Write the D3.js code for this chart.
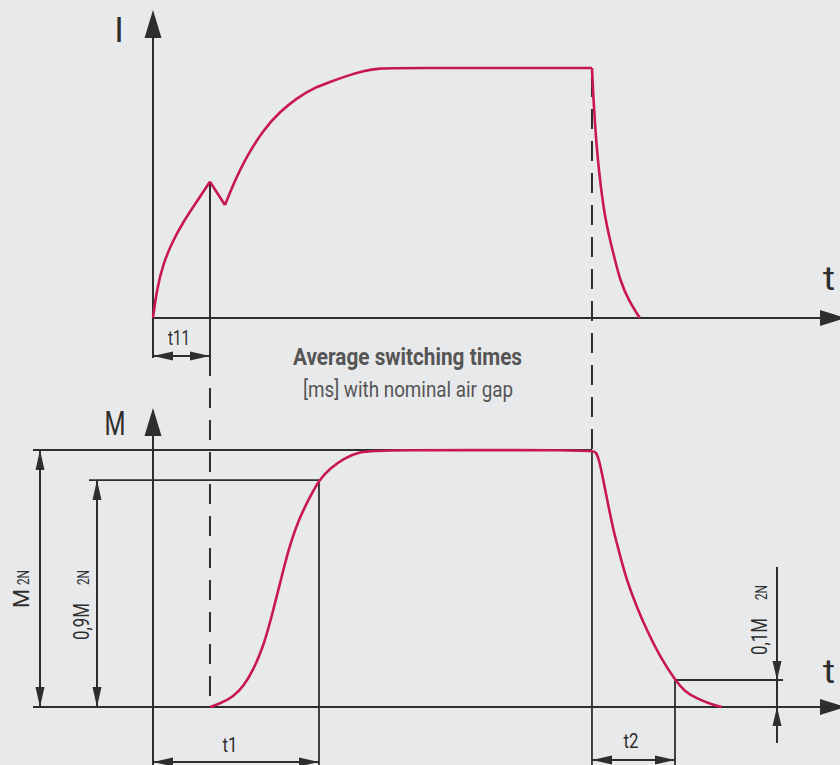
<!DOCTYPE html>
<html>
<head>
<meta charset="utf-8">
<script src="https://cdn.jsdelivr.net/npm/d3@7"></script>
<style>
  body { margin: 0; background: #e8e9eb; }
  svg { display: block; font-family: Roboto, "Liberation Sans", sans-serif; }
</style>
</head>
<body>
<div id="chart"></div>
<script>
// time in arbitrary units, 100 = moment of switch-off
// current I (normalised, 1 = steady state)
const currentRise = [[0, 0], [0.84, 0.112], [2.35, 0.22], [4.62, 0.312], [6.9, 0.385], [9.95, 0.465], [12.98, 0.545]];
const currentDip = [[12.98, 0.545], [16.4, 0.452]];
const currentHold = [[16.4, 0.452], [18.7, 0.552], [21.3, 0.645], [25.1, 0.752], [28.9, 0.825], [32.7, 0.879],
  [36.5, 0.919], [40.3, 0.944], [44.1, 0.968], [47.9, 0.989], [51.7, 0.999], [55.5, 1], [100, 1]];
const currentFall = [[100, 1], [100.3, 0.885], [100.68, 0.779], [101.07, 0.685], [101.66, 0.579], [102.2, 0.499],
  [102.96, 0.405], [104.1, 0.312], [105.24, 0.232], [106.4, 0.152], [108.27, 0.072], [110.9, 0]];

// torque M (normalised, 1 = M2N)
const torque = [[12.98, 0], [15.26, 0.013], [18.29, 0.04], [20.57, 0.079], [22.85, 0.144], [25.13, 0.235],
  [27.04, 0.352], [28.93, 0.481], [30.82, 0.611], [33.1, 0.727], [35.76, 0.818], [37.81, 0.883], [40.32, 0.928],
  [43.35, 0.967], [47.15, 0.993], [50.96, 1], [100, 1], [100.9, 0.993], [101.66, 0.961], [102.57, 0.883],
  [103.71, 0.786], [104.85, 0.689], [106.38, 0.591], [107.9, 0.494], [110.18, 0.39], [112.46, 0.3],
  [115.49, 0.196], [118.91, 0.105], [121.18, 0.059], [123.85, 0.034], [126.88, 0.012], [129.54, 0]];

const switchTimes = { t11: 12.98, t1: 37.81, off: 100, t2: 118.91 };
const torqueLevels = { full: 1, high: 0.883, low: 0.105 };
const titleLines = ["Average switching times", "[ms] with nominal air gap"];

const width = 840, height = 765;
const ink = "#2e2e2e", red = "#c8184f";

const x = d3.scaleLinear().domain([0, 156.5]).range([153, 840]);
const yI = d3.scaleLinear().domain([0, 1]).range([318, 68]);
const yM = d3.scaleLinear().domain([0, 1]).range([707, 450]);

const svg = d3.select("#chart").append("svg")
  .attr("width", width).attr("height", height);

svg.append("rect").attr("width", width).attr("height", height).attr("fill", "#e8e9eb");

function seg(x1, y1, x2, y2, w = 1.6, dash = null) {
  const l = svg.append("line")
    .attr("x1", x1).attr("y1", y1).attr("x2", x2).attr("y2", y2)
    .attr("stroke", ink).attr("stroke-width", w);
  if (dash) l.attr("stroke-dasharray", dash);
  return l;
}

// filled arrow head, tip at (tx,ty), pointing in direction (dx,dy)
function head(tx, ty, dx, dy, len, half) {
  const px = -dy, py = dx;
  const bx = tx - dx * len, by = ty - dy * len;
  svg.append("path")
    .attr("d", `M${tx},${ty}L${bx + px * half},${by + py * half}L${bx - px * half},${by - py * half}Z`)
    .attr("fill", ink);
}

function dimH(x1, x2, y) {
  seg(x1, y, x2, y, 2);
  head(x1, y, -1, 0, 20, 4.5);
  head(x2, y, 1, 0, 20, 4.5);
}
function dimV(x0, y1, y2) {
  seg(x0, y1, x0, y2, 2);
  head(x0, y1, 0, -1, 20, 4.5);
  head(x0, y2, 0, 1, 20, 4.5);
}

// ---- top chart: current ----
seg(x(0), 358, x(0), yI(1.12), 2);
head(x(0), yI(1.232), 0, -1, 28, 8.5);
seg(x(0), yI(0), 822, yI(0), 2);
head(846, yI(0), 1, 0, 26, 8);

// ---- bottom chart: torque ----
seg(x(0), 765, x(0), yM(1.06), 2);
head(x(0), yM(1.163), 0, -1, 28, 8.5);
seg(33, yM(0), 822, yM(0), 2);
head(846, yM(0), 1, 0, 26, 8);

// reference lines
seg(33, yM(torqueLevels.full), x(switchTimes.off), yM(torqueLevels.full), 1.8);
seg(89, yM(torqueLevels.high), x(switchTimes.t1), yM(torqueLevels.high), 1.8);
seg(x(switchTimes.t2), yM(torqueLevels.low), 783, yM(torqueLevels.low), 1.8);

// extension lines
seg(x(switchTimes.t11), yI(currentRise[currentRise.length - 1][1]), x(switchTimes.t11), 376, 2);
seg(x(switchTimes.t11), 388, x(switchTimes.t11), 700, 2, "20,12");
seg(x(switchTimes.off), 77, x(switchTimes.off), yM(1), 2, "20,12");
seg(x(switchTimes.off), yM(1), x(switchTimes.off), 765, 1.8);
seg(x(switchTimes.t1), yM(torqueLevels.high), x(switchTimes.t1), 765, 1.8);
seg(x(switchTimes.t2), yM(torqueLevels.low), x(switchTimes.t2), 765, 1.8);

// dimensions
dimH(x(0), x(switchTimes.t11), 356);
dimH(x(0), x(switchTimes.t1), 762);
dimH(x(switchTimes.off), x(switchTimes.t2), 760);
dimV(40, yM(torqueLevels.full), yM(0));
dimV(97, yM(torqueLevels.high), yM(0));
seg(777, 567, 777, 743, 2);
head(777, yM(torqueLevels.low), 0, 1, 19, 4.5);
head(777, yM(0), 0, -1, 19, 4.5);

// curves
const lineI = d3.line().x(d => x(d[0])).y(d => yI(d[1])).curve(d3.curveBasis);
const lineM = d3.line().x(d => x(d[0])).y(d => yM(d[1])).curve(d3.curveBasis);
[currentRise, currentDip, currentHold, currentFall].forEach(s => {
  svg.append("path").attr("d", lineI(s)).attr("fill", "none")
    .attr("stroke", red).attr("stroke-width", 2.6).attr("stroke-linejoin", "miter");
});
svg.append("path").attr("d", lineM(torque)).attr("fill", "none")
  .attr("stroke", red).attr("stroke-width", 2.6);

// labels
function txt(tx, ty, s, size, len = null) {
  const t = svg.append("text")
    .attr("x", tx).attr("y", ty).attr("font-size", size).attr("text-anchor", "middle")
    .attr("fill", ink).text(s);
  if (len) t.attr("textLength", len).attr("lengthAdjust", "spacingAndGlyphs");
  return t;
}

txt(119, 42, "I", 35);
txt(115, 435, "M", 33, 21);
txt(829, 290, "t", 33, 12);
txt(829, 683, "t", 33, 12);
txt(179, 345, "t11", 21, 22);
txt(230, 752, "t1", 21, 15);
txt(631, 748, "t2", 21, 15);

txt(407.5, 365, titleLines[0], 23, 229).attr("font-weight", "bold").attr("fill", "#555");
txt(408, 397, titleLines[1], 22, 210).attr("fill", "#555");

// rotated labels: text starts at (bx, by) and runs upward
function rotText(bx, by, s, size, len) {
  svg.append("text").attr("transform", `translate(${bx},${by}) rotate(-90)`)
    .attr("font-size", size).attr("fill", ink)
    .attr("textLength", len).attr("lengthAdjust", "spacingAndGlyphs")
    .text(s);
}
rotText(29, 608, "M", 22, 19);
rotText(29, 585, "2N", 16, 15);
rotText(89, 640, "0,9M", 22, 37);
rotText(89, 585, "2N", 16, 15);
rotText(767, 655, "0,1M", 22, 37);
rotText(767, 600, "2N", 16, 15);
</script>
</body>
</html>
